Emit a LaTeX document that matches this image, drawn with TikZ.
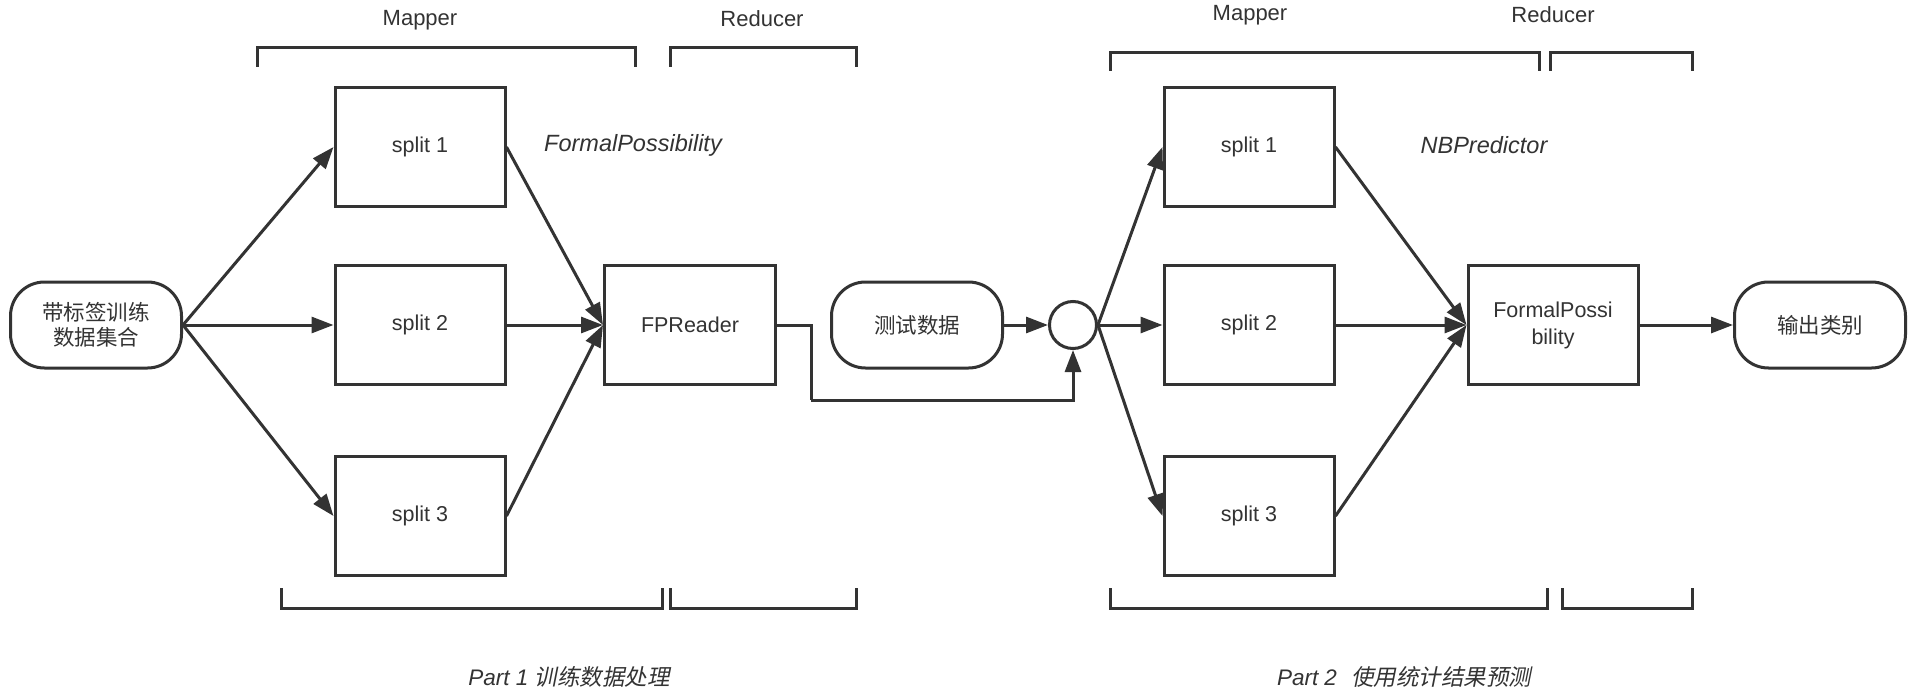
\documentclass[tikz,border=0pt]{standalone}
\usepackage{fontspec}
\setmainfont{Liberation Sans}
\newfontfamily\cjk{Noto Sans CJK SC}
\newfontfamily\cjkit[FakeSlant=0.2]{Noto Sans CJK SC}
\usetikzlibrary{arrows.meta}
\definecolor{ink}{HTML}{333333}
\begin{document}
\begin{tikzpicture}[x=1pt,y=-1pt,
  every node/.style={font=\fontsize{21.5}{27}\selectfont, text=ink},
  line/.style={draw=ink, line width=3pt},
  arr/.style={draw=ink, line width=3pt, -{Triangle[length=22pt,width=16pt]}},
  box/.style={line, minimum width=170pt, minimum height=119pt, inner sep=0pt, align=center},
  pill/.style={line, rounded corners=34pt, minimum width=171pt, minimum height=86pt, inner sep=0pt, align=center},
  hub/.style={line, circle, minimum size=47pt, inner sep=0pt},
  lbl/.style={font=\fontsize{22}{27}\selectfont},
  itl/.style={font=\fontsize{23.5}{27}\selectfont\itshape},
  part/.style={font=\fontsize{22.5}{27}\selectfont\itshape}
]
\useasboundingbox[fill=white] (0,0) rectangle (1914,698);

% ---------- Part 1 ----------
\node[pill] (src) at (96,325) {{\cjk 带标签训练}\\[-2pt]{\cjk 数据集合}};
\node[box] (a1) at (420,147) {split 1};
\node[box] (a2) at (420,325) {split 2};
\node[box] (a3) at (420,516) {split 3};
\node[box, minimum width=171pt] (fpr) at (690,325) {FPReader};

\draw[arr] (src.east) -- (a1.west);
\draw[arr] (src.east) -- (a2.west);
\draw[arr] (src.east) -- (a3.west);
\draw[arr] (a1.east) -- (fpr.west);
\draw[arr] (a2.east) -- (fpr.west);
\draw[arr] (a3.east) -- (fpr.west);

\node[lbl] (m1) at (420,20) {Mapper};
\node[lbl] (r1) at (762,19) {Reducer};
\node[itl] (fp) at (633,145) {FormalPossibility};

\draw[line] (257,67) |- (635,48) -- (635,67);
\draw[line] (670,67) |- (856,48) -- (856,67);
\draw[line] (281,588) |- (662,608) -- (662,588);
\draw[line] (670,588) |- (856,608) -- (856,588);

\node[part] (p1) at (569,677) {Part 1 {\cjkit 训练数据处理}};

% ---------- Part 2 ----------
\node[pill] (test) at (917,325) {\cjk 测试数据};
\node[hub] (hub) at (1073,325) {};
\coordinate (bend) at (811,400);
\draw[line] (fpr.east) -| (bend);
\draw[arr] (bend) -| (hub.south);
\draw[arr] (test.east) -- (hub.west);

\node[box] (b1) at (1249,147) {split 1};
\node[box] (b2) at (1249,325) {split 2};
\node[box] (b3) at (1249,516) {split 3};
\node[box] (fpb) at (1553,325) {FormalPossi\\bility};
\node[pill] (out) at (1820,325) {\cjk 输出类别};

\draw[arr] (hub.east) -- (b1.west);
\draw[arr] (hub.east) -- (b2.west);
\draw[arr] (hub.east) -- (b3.west);
\draw[arr] (b1.east) -- (fpb.west);
\draw[arr] (b2.east) -- (fpb.west);
\draw[arr] (b3.east) -- (fpb.west);
\draw[arr] (fpb.east) -- (out.west);

\node[lbl] (m2) at (1250,15) {Mapper};
\node[lbl] (r2) at (1553,15) {Reducer};
\node[itl] (nb) at (1484,145) {NBPredictor};

\draw[line] (1110,71) |- (1539,53) -- (1539,71);
\draw[line] (1550,71) |- (1692,53) -- (1692,71);
\draw[line] (1110,588) |- (1547,608) -- (1547,588);
\draw[line] (1562,588) |- (1692,608) -- (1692,588);

\node[part] (p2) at (1404,677) {Part 2\hspace{14pt}{\cjkit 使用统计结果预测}};
\end{tikzpicture}
\end{document}
